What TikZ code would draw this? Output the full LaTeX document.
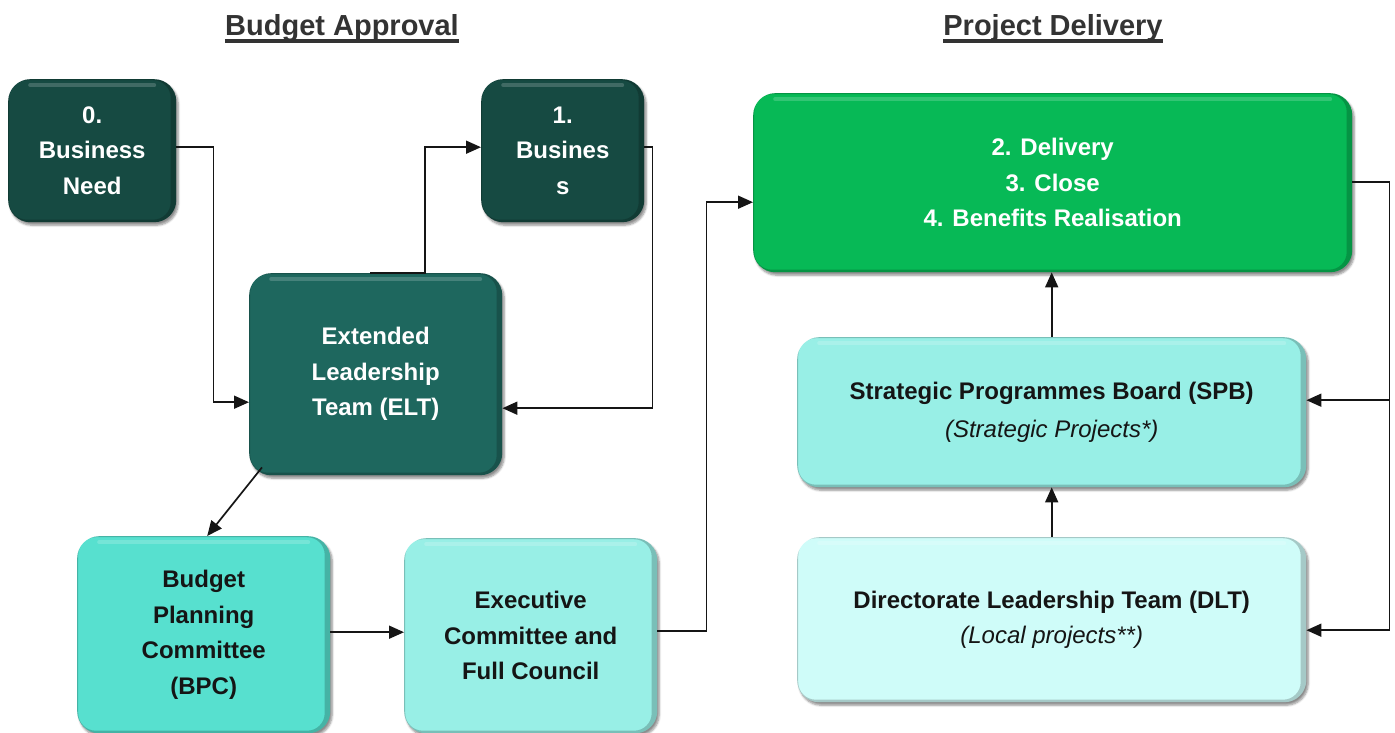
\documentclass[tikz,border=0pt]{standalone}
\usepackage{fontspec}
\setmainfont{Liberation Sans}
\usetikzlibrary{arrows.meta,shadows.blur,calc}
\definecolor{darkA}{HTML}{164A42}
\definecolor{darkB}{HTML}{1E675E}
\definecolor{tealA}{HTML}{57E0CF}
\definecolor{tealB}{HTML}{98EFE6}
\definecolor{tealC}{HTML}{CFFCF9}
\definecolor{greenA}{HTML}{07B956}
\definecolor{titlegray}{HTML}{333333}
\definecolor{inkgray}{HTML}{151515}
\tikzset{
  box/.style={rounded corners=22pt, draw=none, anchor=north west, align=center, inner sep=0pt,
    font=\bfseries\fontsize{24}{35.5}\selectfont,
    blur shadow={shadow xshift=2pt, shadow yshift=-3pt, shadow blur steps=6, shadow opacity=45},
    path picture={
      \draw[black, opacity=0.20, line width=9pt, rounded corners=22pt]
        ($(path picture bounding box.south west)+(-3.5,2)$) rectangle ($(path picture bounding box.north east)+(-1,-3.5)$);
      \draw[white, opacity=0.18, line width=4pt, line cap=round]
        ($(path picture bounding box.north west)+(22,6)$) -- ($(path picture bounding box.north east)+(-22,6)$);
    }},
  darkbox/.style={box, fill=#1, text=white},
  lightbox/.style={box, fill=#1, text=inkgray},
  conn/.style={draw=inkgray, line width=1.7pt, -{Triangle[length=15pt,width=13pt]}},
  heading/.style={font=\bfseries\fontsize{29}{30}\selectfont, text=titlegray, inner sep=0pt, anchor=base},
  uline/.style={draw=titlegray, line width=3.5pt}
}
\begin{document}
\begin{tikzpicture}[x=1pt,y=-1pt]
\useasboundingbox (0,0) rectangle (1395,733);

% titles
\node[heading] (t1) at (342,36) {Budget Approval};
\node[heading] (t2) at (1053,36) {Project Delivery};
\draw[uline] ($(t1.base west)+(0,5)$) -- ($(t1.base east)+(0,5)$);
\draw[uline] ($(t2.base west)+(0,5)$) -- ($(t2.base east)+(0,5)$);

% boxes
\node[darkbox=darkA, minimum width=168pt, minimum height=143pt] (b0) at (8,79) {0.\\Business\\Need};
\node[darkbox=darkA, minimum width=163pt, minimum height=143pt] (b1) at (481,79) {1.\\Busines\\s};
\node[darkbox=darkB, minimum width=253pt, minimum height=202pt] (elt) at (249,273) {Extended\\Leadership\\Team (ELT)};
\node[lightbox=tealA, minimum width=253pt, minimum height=197pt] (bpc) at (77,536) {Budget\\Planning\\Committee\\(BPC)};
\node[lightbox=tealB, minimum width=253pt, minimum height=195pt] (exec) at (404,538) {Executive\\Committee and\\Full Council};
\node[darkbox=greenA, minimum width=599pt, minimum height=179pt] (del) at (753,93) {2. Delivery\\3. Close\\4. Benefits Realisation};
\node[lightbox=tealB, minimum width=509pt, minimum height=150pt] (spb) at (797,337) {Strategic Programmes Board (SPB)\\[2pt]\mdseries\itshape (Strategic Projects*)};
\node[lightbox=tealC, minimum width=509pt, minimum height=165pt] (dlt) at (797,537) {Directorate Leadership Team (DLT)\\\mdseries\itshape (Local projects**)};

% connectors
\draw[conn] ($(b0.east)+(0,-3.5)$) -- ++(37,0) |- ($(elt.west)+(0,28)$);
\draw[conn] ($(elt.north)+(-5.5,0)$) -- ++(55,0) |- ($(b1.west)+(0,-3.5)$);
\draw[conn] ($(b1.east)+(0,-3.5)$) -- ++(8,0) |- ($(elt.east)+(0,34)$);
\draw[conn] ($(elt.south west)+(13,-8)$) -- ($(bpc.north)+(3.5,0)$);
\draw[conn] ($(bpc.east)+(0,-2.5)$) -- ($(exec.west)+(0,-3.5)$);
\draw[conn] ($(exec.east)+(0,-4.5)$) -- ++(49,0) |- ($(del.west)+(0,19.5)$);
\draw[conn] ($(del.east)+(0,-0.5)$) -- ++(37,0) |- ($(dlt.east)+(0,10.5)$);
\draw[conn] ($(spb.east)+(83,-12)$) -- ($(spb.east)+(0,-12)$);
\draw[conn] (spb.north) -- (spb.north |- del.south);
\draw[conn] (dlt.north) -- (dlt.north |- spb.south);
\end{tikzpicture}
\end{document}
